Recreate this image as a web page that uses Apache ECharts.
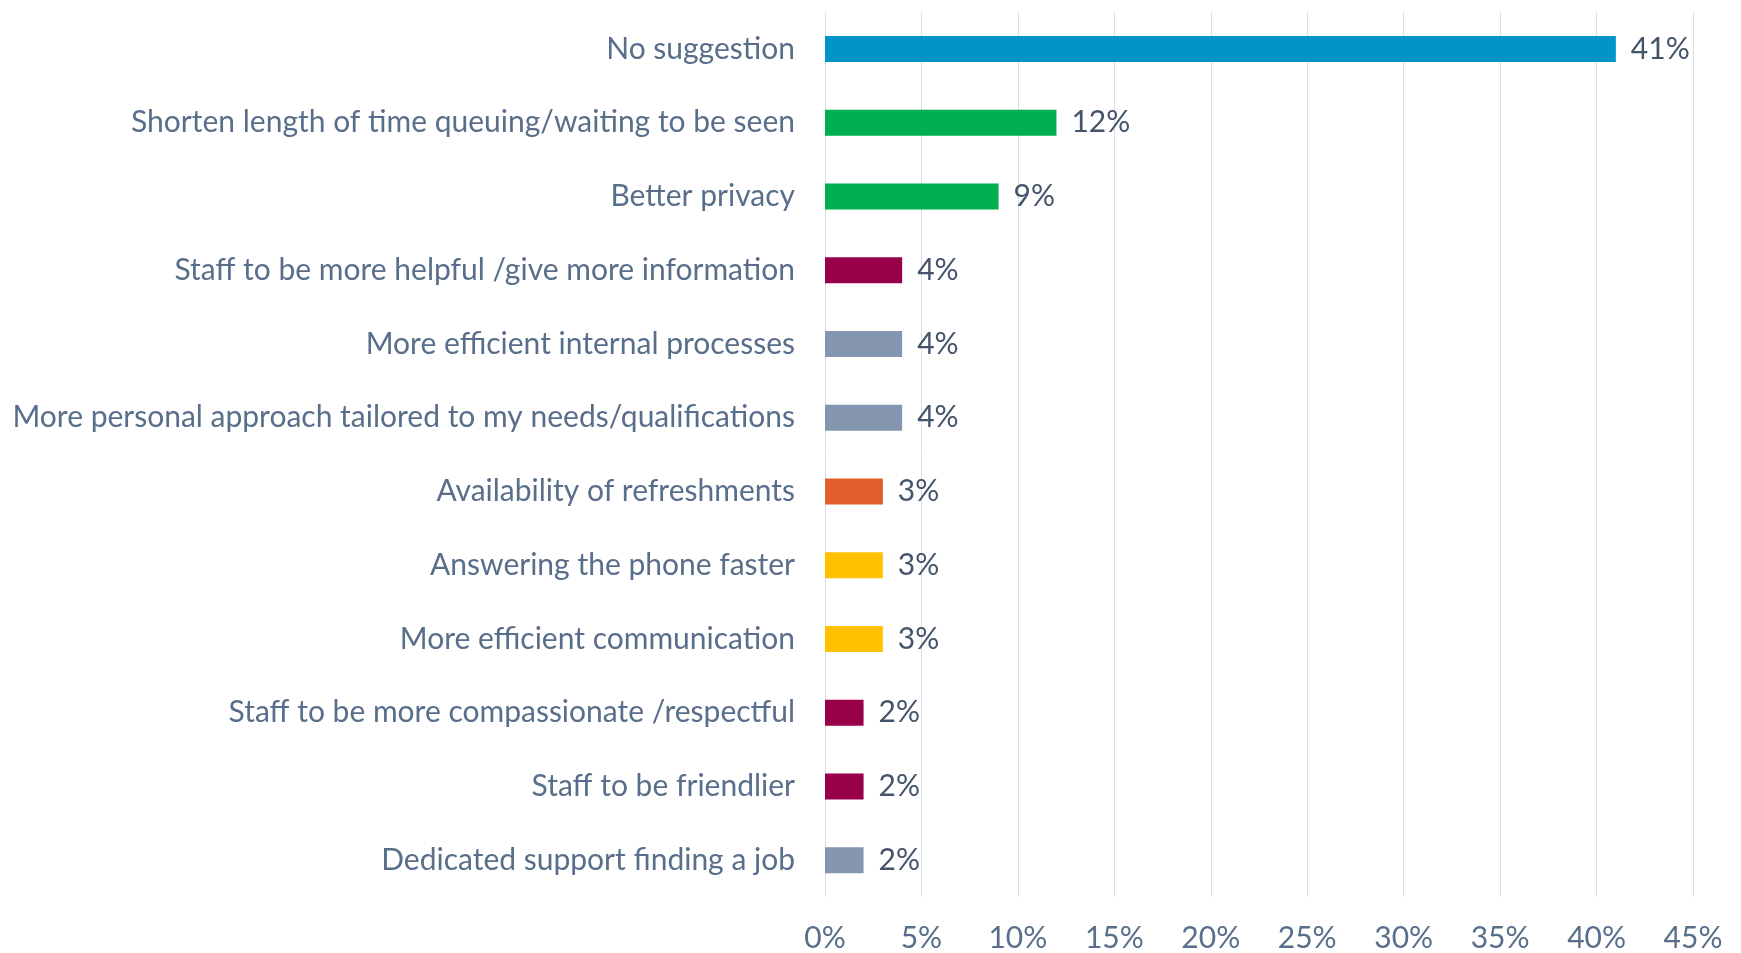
<!DOCTYPE html>
<html>
<head>
<meta charset="utf-8">
<script src="https://cdn.jsdelivr.net/npm/echarts@6/dist/echarts.min.js"></script>
<style>
  html, body { margin: 0; padding: 0; background: #fff; }
  #chart { width: 1741px; height: 953px; }
</style>
</head>
<body>
<div id="chart"></div>
<script>
var categories = [
  'No suggestion',
  'Shorten length of time queuing/waiting to be seen',
  'Better privacy',
  'Staff to be more helpful /give more information',
  'More efficient internal processes',
  'More personal approach tailored to my needs/qualifications',
  'Availability of refreshments',
  'Answering the phone faster',
  'More efficient communication',
  'Staff to be more compassionate /respectful',
  'Staff to be friendlier',
  'Dedicated support finding a job'
];
var values = [41, 12, 9, 4, 4, 4, 3, 3, 3, 2, 2, 2];
var barColors = [
  '#0094C9', '#00B050', '#00B050', '#99004A', '#8496B0', '#8496B0',
  '#E35E2B', '#FFC000', '#FFC000', '#99004A', '#99004A', '#8496B0'
];

var chartDom = document.getElementById('chart');
var myChart = echarts.init(chartDom, null, { renderer: 'canvas' });
var fontFam = 'Lato, "Open Sans", sans-serif';

var option = {
  animation: false,
  backgroundColor: '#ffffff',
  grid: {
    left: 825,
    right: 48,
    top: 12,
    bottom: 53
  },
  xAxis: {
    type: 'value',
    min: 0,
    max: 45,
    interval: 5,
    axisLine: { show: false },
    axisTick: { show: false },
    splitLine: {
      show: true,
      lineStyle: { color: '#D9DDE6', width: 1 }
    },
    axisLabel: {
      formatter: '{value}%',
      color: '#596E8A',
      fontFamily: fontFam,
      fontSize: 30,
      margin: 26
    }
  },
  yAxis: {
    type: 'category',
    inverse: true,
    data: categories,
    axisLine: { show: false },
    axisTick: { show: false },
    axisLabel: {
      color: '#596E8A',
      fontFamily: fontFam,
      fontSize: 30,
      margin: 30
    }
  },
  series: [
    {
      type: 'bar',
      barWidth: 26,
      data: values.map(function (v, i) {
        return { value: v, itemStyle: { color: barColors[i] } };
      }),
      label: {
        show: true,
        position: 'right',
        distance: 15,
        formatter: '{c}%',
        color: '#44546A',
        fontFamily: fontFam,
        fontSize: 30
      }
    }
  ]
};

option && myChart.setOption(option);
</script>
</body>
</html>
